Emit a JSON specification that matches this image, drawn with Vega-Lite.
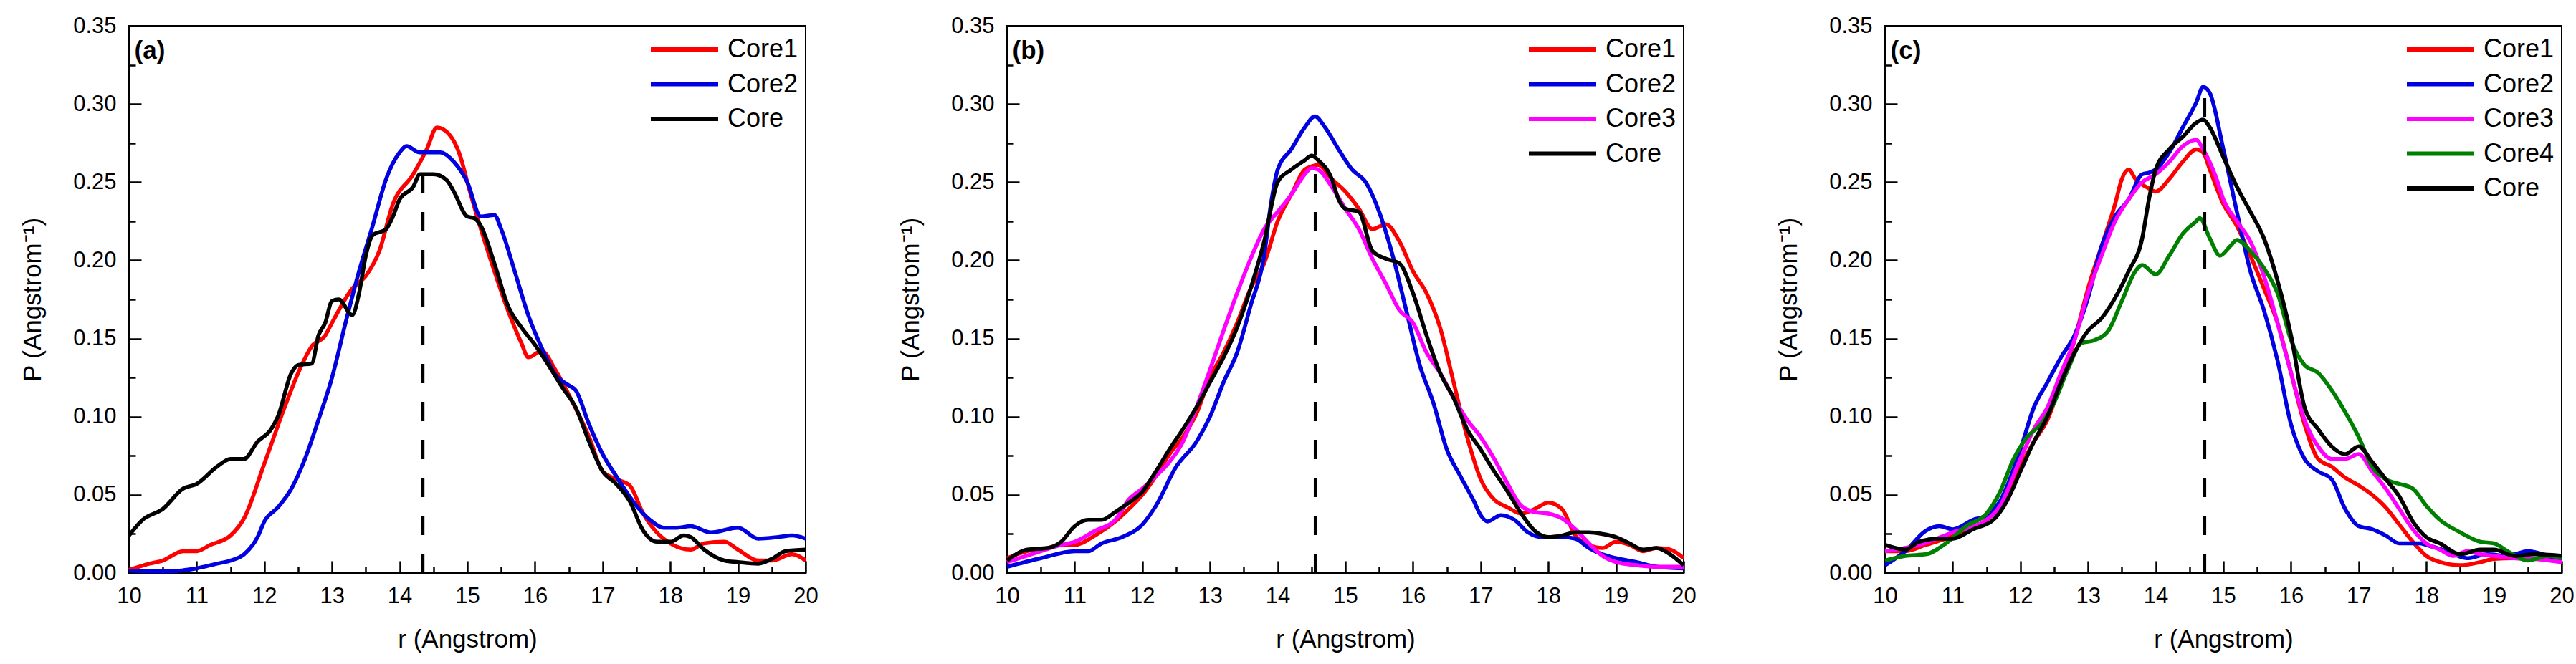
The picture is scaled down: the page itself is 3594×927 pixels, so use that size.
{
  "$schema": "https://vega.github.io/schema/vega-lite/v6.json",
  "padding": {"left": 27, "top": 19, "right": 0, "bottom": 5},
  "spacing": 109,
  "datasets": {
    "a": [
      {"series": "Core1", "r": 10.0, "p": 0.002}, {"series": "Core1", "r": 10.3, "p": 0.006}, {"series": "Core1", "r": 10.5, "p": 0.008},
      {"series": "Core1", "r": 10.8, "p": 0.014}, {"series": "Core1", "r": 11.0, "p": 0.014}, {"series": "Core1", "r": 11.2, "p": 0.018},
      {"series": "Core1", "r": 11.5, "p": 0.024}, {"series": "Core1", "r": 11.7, "p": 0.035}, {"series": "Core1", "r": 12.0, "p": 0.07},
      {"series": "Core1", "r": 12.3, "p": 0.106}, {"series": "Core1", "r": 12.5, "p": 0.128}, {"series": "Core1", "r": 12.7, "p": 0.145},
      {"series": "Core1", "r": 12.9, "p": 0.152}, {"series": "Core1", "r": 13.0, "p": 0.16}, {"series": "Core1", "r": 13.3, "p": 0.182},
      {"series": "Core1", "r": 13.5, "p": 0.19}, {"series": "Core1", "r": 13.7, "p": 0.206}, {"series": "Core1", "r": 13.9, "p": 0.236},
      {"series": "Core1", "r": 14.2, "p": 0.255}, {"series": "Core1", "r": 14.4, "p": 0.271}, {"series": "Core1", "r": 14.55, "p": 0.285},
      {"series": "Core1", "r": 14.7, "p": 0.282}, {"series": "Core1", "r": 14.9, "p": 0.266}, {"series": "Core1", "r": 15.0, "p": 0.25},
      {"series": "Core1", "r": 15.2, "p": 0.22}, {"series": "Core1", "r": 15.4, "p": 0.193}, {"series": "Core1", "r": 15.6, "p": 0.168},
      {"series": "Core1", "r": 15.8, "p": 0.147}, {"series": "Core1", "r": 15.9, "p": 0.138}, {"series": "Core1", "r": 16.1, "p": 0.142},
      {"series": "Core1", "r": 16.3, "p": 0.13}, {"series": "Core1", "r": 16.5, "p": 0.114}, {"series": "Core1", "r": 16.8, "p": 0.087},
      {"series": "Core1", "r": 17.0, "p": 0.065}, {"series": "Core1", "r": 17.2, "p": 0.06}, {"series": "Core1", "r": 17.4, "p": 0.056},
      {"series": "Core1", "r": 17.6, "p": 0.038}, {"series": "Core1", "r": 17.8, "p": 0.026}, {"series": "Core1", "r": 18.0, "p": 0.019},
      {"series": "Core1", "r": 18.3, "p": 0.015}, {"series": "Core1", "r": 18.5, "p": 0.019}, {"series": "Core1", "r": 18.8, "p": 0.02},
      {"series": "Core1", "r": 19.0, "p": 0.015}, {"series": "Core1", "r": 19.3, "p": 0.008}, {"series": "Core1", "r": 19.5, "p": 0.008},
      {"series": "Core1", "r": 19.8, "p": 0.012}, {"series": "Core1", "r": 20.0, "p": 0.008},

      {"series": "Core2", "r": 10.0, "p": 0.0015}, {"series": "Core2", "r": 10.5, "p": 0.001}, {"series": "Core2", "r": 11.0, "p": 0.003},
      {"series": "Core2", "r": 11.3, "p": 0.006}, {"series": "Core2", "r": 11.5, "p": 0.008}, {"series": "Core2", "r": 11.7, "p": 0.012},
      {"series": "Core2", "r": 11.9, "p": 0.023}, {"series": "Core2", "r": 12.0, "p": 0.033}, {"series": "Core2", "r": 12.2, "p": 0.042},
      {"series": "Core2", "r": 12.4, "p": 0.054}, {"series": "Core2", "r": 12.6, "p": 0.073}, {"series": "Core2", "r": 12.8, "p": 0.098},
      {"series": "Core2", "r": 13.0, "p": 0.125}, {"series": "Core2", "r": 13.2, "p": 0.16}, {"series": "Core2", "r": 13.4, "p": 0.193},
      {"series": "Core2", "r": 13.6, "p": 0.222}, {"series": "Core2", "r": 13.8, "p": 0.252}, {"series": "Core2", "r": 14.0, "p": 0.269},
      {"series": "Core2", "r": 14.1, "p": 0.273}, {"series": "Core2", "r": 14.3, "p": 0.269}, {"series": "Core2", "r": 14.6, "p": 0.269},
      {"series": "Core2", "r": 14.8, "p": 0.263}, {"series": "Core2", "r": 15.0, "p": 0.25}, {"series": "Core2", "r": 15.2, "p": 0.228},
      {"series": "Core2", "r": 15.4, "p": 0.229}, {"series": "Core2", "r": 15.5, "p": 0.22}, {"series": "Core2", "r": 15.7, "p": 0.193},
      {"series": "Core2", "r": 15.9, "p": 0.165}, {"series": "Core2", "r": 16.1, "p": 0.144}, {"series": "Core2", "r": 16.3, "p": 0.127},
      {"series": "Core2", "r": 16.5, "p": 0.12}, {"series": "Core2", "r": 16.6, "p": 0.117}, {"series": "Core2", "r": 16.8, "p": 0.095},
      {"series": "Core2", "r": 17.0, "p": 0.076}, {"series": "Core2", "r": 17.2, "p": 0.062}, {"series": "Core2", "r": 17.5, "p": 0.043},
      {"series": "Core2", "r": 17.7, "p": 0.034}, {"series": "Core2", "r": 17.9, "p": 0.029}, {"series": "Core2", "r": 18.1, "p": 0.029},
      {"series": "Core2", "r": 18.3, "p": 0.03}, {"series": "Core2", "r": 18.6, "p": 0.026}, {"series": "Core2", "r": 19.0, "p": 0.029},
      {"series": "Core2", "r": 19.3, "p": 0.022}, {"series": "Core2", "r": 19.6, "p": 0.023}, {"series": "Core2", "r": 19.8, "p": 0.024},
      {"series": "Core2", "r": 20.0, "p": 0.022},

      {"series": "Core", "r": 10.0, "p": 0.024}, {"series": "Core", "r": 10.2, "p": 0.034}, {"series": "Core", "r": 10.5, "p": 0.041},
      {"series": "Core", "r": 10.8, "p": 0.054}, {"series": "Core", "r": 11.0, "p": 0.057}, {"series": "Core", "r": 11.3, "p": 0.068},
      {"series": "Core", "r": 11.5, "p": 0.073}, {"series": "Core", "r": 11.7, "p": 0.073}, {"series": "Core", "r": 11.9, "p": 0.084},
      {"series": "Core", "r": 12.1, "p": 0.092}, {"series": "Core", "r": 12.2, "p": 0.1}, {"series": "Core", "r": 12.4, "p": 0.128},
      {"series": "Core", "r": 12.5, "p": 0.133}, {"series": "Core", "r": 12.7, "p": 0.134}, {"series": "Core", "r": 12.8, "p": 0.152},
      {"series": "Core", "r": 12.9, "p": 0.16}, {"series": "Core", "r": 13.0, "p": 0.174}, {"series": "Core", "r": 13.1, "p": 0.175},
      {"series": "Core", "r": 13.3, "p": 0.165}, {"series": "Core", "r": 13.4, "p": 0.179}, {"series": "Core", "r": 13.5, "p": 0.203},
      {"series": "Core", "r": 13.6, "p": 0.216}, {"series": "Core", "r": 13.8, "p": 0.22}, {"series": "Core", "r": 13.9, "p": 0.228},
      {"series": "Core", "r": 14.0, "p": 0.239}, {"series": "Core", "r": 14.2, "p": 0.247}, {"series": "Core", "r": 14.3, "p": 0.255},
      {"series": "Core", "r": 14.5, "p": 0.255}, {"series": "Core", "r": 14.7, "p": 0.251}, {"series": "Core", "r": 14.8, "p": 0.244},
      {"series": "Core", "r": 15.0, "p": 0.228}, {"series": "Core", "r": 15.1, "p": 0.227}, {"series": "Core", "r": 15.2, "p": 0.222},
      {"series": "Core", "r": 15.4, "p": 0.198}, {"series": "Core", "r": 15.6, "p": 0.171}, {"series": "Core", "r": 15.8, "p": 0.157},
      {"series": "Core", "r": 16.0, "p": 0.146}, {"series": "Core", "r": 16.2, "p": 0.133}, {"series": "Core", "r": 16.4, "p": 0.119},
      {"series": "Core", "r": 16.6, "p": 0.106}, {"series": "Core", "r": 16.8, "p": 0.084}, {"series": "Core", "r": 17.0, "p": 0.065},
      {"series": "Core", "r": 17.2, "p": 0.057}, {"series": "Core", "r": 17.4, "p": 0.046}, {"series": "Core", "r": 17.6, "p": 0.027},
      {"series": "Core", "r": 17.8, "p": 0.02}, {"series": "Core", "r": 18.0, "p": 0.02}, {"series": "Core", "r": 18.2, "p": 0.024},
      {"series": "Core", "r": 18.3, "p": 0.023}, {"series": "Core", "r": 18.5, "p": 0.015}, {"series": "Core", "r": 18.8, "p": 0.008},
      {"series": "Core", "r": 19.0, "p": 0.007}, {"series": "Core", "r": 19.3, "p": 0.006}, {"series": "Core", "r": 19.5, "p": 0.009},
      {"series": "Core", "r": 19.7, "p": 0.014}, {"series": "Core", "r": 20.0, "p": 0.015}
    ],
    "b": [
      {"series": "Core1", "r": 10.0, "p": 0.0095}, {"series": "Core1", "r": 10.3, "p": 0.014}, {"series": "Core1", "r": 10.6, "p": 0.016},
      {"series": "Core1", "r": 10.8, "p": 0.018}, {"series": "Core1", "r": 11.0, "p": 0.018}, {"series": "Core1", "r": 11.3, "p": 0.024},
      {"series": "Core1", "r": 11.6, "p": 0.033}, {"series": "Core1", "r": 11.8, "p": 0.041}, {"series": "Core1", "r": 12.0, "p": 0.05},
      {"series": "Core1", "r": 12.2, "p": 0.062}, {"series": "Core1", "r": 12.4, "p": 0.076}, {"series": "Core1", "r": 12.6, "p": 0.087},
      {"series": "Core1", "r": 12.8, "p": 0.102}, {"series": "Core1", "r": 13.0, "p": 0.125}, {"series": "Core1", "r": 13.2, "p": 0.141},
      {"series": "Core1", "r": 13.4, "p": 0.16}, {"series": "Core1", "r": 13.6, "p": 0.182}, {"series": "Core1", "r": 13.8, "p": 0.198},
      {"series": "Core1", "r": 14.0, "p": 0.225}, {"series": "Core1", "r": 14.2, "p": 0.242}, {"series": "Core1", "r": 14.4, "p": 0.258},
      {"series": "Core1", "r": 14.5, "p": 0.26}, {"series": "Core1", "r": 14.6, "p": 0.261}, {"series": "Core1", "r": 14.8, "p": 0.252},
      {"series": "Core1", "r": 15.0, "p": 0.244}, {"series": "Core1", "r": 15.2, "p": 0.233}, {"series": "Core1", "r": 15.4, "p": 0.22},
      {"series": "Core1", "r": 15.6, "p": 0.223}, {"series": "Core1", "r": 15.8, "p": 0.212}, {"series": "Core1", "r": 16.0, "p": 0.193},
      {"series": "Core1", "r": 16.2, "p": 0.179}, {"series": "Core1", "r": 16.4, "p": 0.157}, {"series": "Core1", "r": 16.6, "p": 0.122},
      {"series": "Core1", "r": 16.8, "p": 0.087}, {"series": "Core1", "r": 17.0, "p": 0.06}, {"series": "Core1", "r": 17.2, "p": 0.047},
      {"series": "Core1", "r": 17.4, "p": 0.042}, {"series": "Core1", "r": 17.6, "p": 0.038}, {"series": "Core1", "r": 17.8, "p": 0.041},
      {"series": "Core1", "r": 18.0, "p": 0.045}, {"series": "Core1", "r": 18.2, "p": 0.041}, {"series": "Core1", "r": 18.4, "p": 0.024},
      {"series": "Core1", "r": 18.6, "p": 0.018}, {"series": "Core1", "r": 18.8, "p": 0.016}, {"series": "Core1", "r": 19.0, "p": 0.02},
      {"series": "Core1", "r": 19.2, "p": 0.018}, {"series": "Core1", "r": 19.4, "p": 0.014}, {"series": "Core1", "r": 19.6, "p": 0.016},
      {"series": "Core1", "r": 19.8, "p": 0.015}, {"series": "Core1", "r": 20.0, "p": 0.0095},

      {"series": "Core2", "r": 10.0, "p": 0.004}, {"series": "Core2", "r": 10.5, "p": 0.0095}, {"series": "Core2", "r": 11.0, "p": 0.014},
      {"series": "Core2", "r": 11.2, "p": 0.014}, {"series": "Core2", "r": 11.4, "p": 0.019}, {"series": "Core2", "r": 11.7, "p": 0.023},
      {"series": "Core2", "r": 12.0, "p": 0.031}, {"series": "Core2", "r": 12.2, "p": 0.043}, {"series": "Core2", "r": 12.5, "p": 0.068},
      {"series": "Core2", "r": 12.8, "p": 0.084}, {"series": "Core2", "r": 13.0, "p": 0.1}, {"series": "Core2", "r": 13.2, "p": 0.122},
      {"series": "Core2", "r": 13.4, "p": 0.141}, {"series": "Core2", "r": 13.6, "p": 0.171}, {"series": "Core2", "r": 13.8, "p": 0.203},
      {"series": "Core2", "r": 13.9, "p": 0.236}, {"series": "Core2", "r": 14.0, "p": 0.258}, {"series": "Core2", "r": 14.2, "p": 0.271},
      {"series": "Core2", "r": 14.4, "p": 0.285}, {"series": "Core2", "r": 14.55, "p": 0.292}, {"series": "Core2", "r": 14.7, "p": 0.285},
      {"series": "Core2", "r": 14.9, "p": 0.271}, {"series": "Core2", "r": 15.1, "p": 0.258}, {"series": "Core2", "r": 15.3, "p": 0.25},
      {"series": "Core2", "r": 15.5, "p": 0.231}, {"series": "Core2", "r": 15.7, "p": 0.203}, {"series": "Core2", "r": 15.9, "p": 0.168},
      {"series": "Core2", "r": 16.1, "p": 0.133}, {"series": "Core2", "r": 16.3, "p": 0.109}, {"series": "Core2", "r": 16.5, "p": 0.079},
      {"series": "Core2", "r": 16.7, "p": 0.062}, {"series": "Core2", "r": 16.9, "p": 0.046}, {"series": "Core2", "r": 17.0, "p": 0.037},
      {"series": "Core2", "r": 17.1, "p": 0.033}, {"series": "Core2", "r": 17.3, "p": 0.037}, {"series": "Core2", "r": 17.5, "p": 0.034},
      {"series": "Core2", "r": 17.7, "p": 0.026}, {"series": "Core2", "r": 17.9, "p": 0.023}, {"series": "Core2", "r": 18.2, "p": 0.023},
      {"series": "Core2", "r": 18.4, "p": 0.022}, {"series": "Core2", "r": 18.6, "p": 0.016}, {"series": "Core2", "r": 18.8, "p": 0.012},
      {"series": "Core2", "r": 19.0, "p": 0.0095}, {"series": "Core2", "r": 19.3, "p": 0.007}, {"series": "Core2", "r": 19.6, "p": 0.004},
      {"series": "Core2", "r": 20.0, "p": 0.003},

      {"series": "Core3", "r": 10.0, "p": 0.007}, {"series": "Core3", "r": 10.5, "p": 0.014}, {"series": "Core3", "r": 10.8, "p": 0.018},
      {"series": "Core3", "r": 11.0, "p": 0.02}, {"series": "Core3", "r": 11.3, "p": 0.027}, {"series": "Core3", "r": 11.6, "p": 0.034},
      {"series": "Core3", "r": 11.8, "p": 0.047}, {"series": "Core3", "r": 12.0, "p": 0.054}, {"series": "Core3", "r": 12.2, "p": 0.062},
      {"series": "Core3", "r": 12.4, "p": 0.071}, {"series": "Core3", "r": 12.6, "p": 0.084}, {"series": "Core3", "r": 12.8, "p": 0.106},
      {"series": "Core3", "r": 13.0, "p": 0.13}, {"series": "Core3", "r": 13.2, "p": 0.155}, {"series": "Core3", "r": 13.4, "p": 0.179},
      {"series": "Core3", "r": 13.6, "p": 0.201}, {"series": "Core3", "r": 13.8, "p": 0.22}, {"series": "Core3", "r": 14.0, "p": 0.231},
      {"series": "Core3", "r": 14.2, "p": 0.242}, {"series": "Core3", "r": 14.4, "p": 0.255}, {"series": "Core3", "r": 14.5, "p": 0.259},
      {"series": "Core3", "r": 14.6, "p": 0.258}, {"series": "Core3", "r": 14.8, "p": 0.247}, {"series": "Core3", "r": 15.0, "p": 0.233},
      {"series": "Core3", "r": 15.2, "p": 0.22}, {"series": "Core3", "r": 15.4, "p": 0.201}, {"series": "Core3", "r": 15.6, "p": 0.185},
      {"series": "Core3", "r": 15.8, "p": 0.168}, {"series": "Core3", "r": 16.0, "p": 0.16}, {"series": "Core3", "r": 16.2, "p": 0.141},
      {"series": "Core3", "r": 16.4, "p": 0.128}, {"series": "Core3", "r": 16.6, "p": 0.112}, {"series": "Core3", "r": 16.8, "p": 0.098},
      {"series": "Core3", "r": 17.0, "p": 0.087}, {"series": "Core3", "r": 17.2, "p": 0.073}, {"series": "Core3", "r": 17.4, "p": 0.057},
      {"series": "Core3", "r": 17.6, "p": 0.043}, {"series": "Core3", "r": 17.8, "p": 0.039}, {"series": "Core3", "r": 18.0, "p": 0.038},
      {"series": "Core3", "r": 18.2, "p": 0.035}, {"series": "Core3", "r": 18.4, "p": 0.028}, {"series": "Core3", "r": 18.6, "p": 0.019},
      {"series": "Core3", "r": 18.8, "p": 0.011}, {"series": "Core3", "r": 19.0, "p": 0.007}, {"series": "Core3", "r": 19.3, "p": 0.005},
      {"series": "Core3", "r": 19.6, "p": 0.004}, {"series": "Core3", "r": 20.0, "p": 0.004},

      {"series": "Core", "r": 10.0, "p": 0.008}, {"series": "Core", "r": 10.3, "p": 0.015}, {"series": "Core", "r": 10.6, "p": 0.016},
      {"series": "Core", "r": 10.8, "p": 0.02}, {"series": "Core", "r": 11.0, "p": 0.03}, {"series": "Core", "r": 11.2, "p": 0.034},
      {"series": "Core", "r": 11.4, "p": 0.034}, {"series": "Core", "r": 11.6, "p": 0.039}, {"series": "Core", "r": 11.8, "p": 0.045},
      {"series": "Core", "r": 12.0, "p": 0.052}, {"series": "Core", "r": 12.2, "p": 0.065}, {"series": "Core", "r": 12.4, "p": 0.079},
      {"series": "Core", "r": 12.6, "p": 0.092}, {"series": "Core", "r": 12.8, "p": 0.106}, {"series": "Core", "r": 13.0, "p": 0.122},
      {"series": "Core", "r": 13.2, "p": 0.138}, {"series": "Core", "r": 13.4, "p": 0.157}, {"series": "Core", "r": 13.6, "p": 0.182},
      {"series": "Core", "r": 13.8, "p": 0.212}, {"series": "Core", "r": 14.0, "p": 0.25}, {"series": "Core", "r": 14.2, "p": 0.258},
      {"series": "Core", "r": 14.4, "p": 0.264}, {"series": "Core", "r": 14.5, "p": 0.267}, {"series": "Core", "r": 14.6, "p": 0.264},
      {"series": "Core", "r": 14.8, "p": 0.252}, {"series": "Core", "r": 14.9, "p": 0.239}, {"series": "Core", "r": 15.0, "p": 0.233},
      {"series": "Core", "r": 15.2, "p": 0.231}, {"series": "Core", "r": 15.4, "p": 0.206}, {"series": "Core", "r": 15.6, "p": 0.201},
      {"series": "Core", "r": 15.8, "p": 0.198}, {"series": "Core", "r": 16.0, "p": 0.179}, {"series": "Core", "r": 16.2, "p": 0.152},
      {"series": "Core", "r": 16.4, "p": 0.128}, {"series": "Core", "r": 16.6, "p": 0.112}, {"series": "Core", "r": 16.8, "p": 0.092},
      {"series": "Core", "r": 17.0, "p": 0.079}, {"series": "Core", "r": 17.2, "p": 0.065}, {"series": "Core", "r": 17.4, "p": 0.052},
      {"series": "Core", "r": 17.6, "p": 0.038}, {"series": "Core", "r": 17.8, "p": 0.027}, {"series": "Core", "r": 18.0, "p": 0.023},
      {"series": "Core", "r": 18.2, "p": 0.024}, {"series": "Core", "r": 18.4, "p": 0.026}, {"series": "Core", "r": 18.6, "p": 0.026},
      {"series": "Core", "r": 18.8, "p": 0.025}, {"series": "Core", "r": 19.0, "p": 0.023}, {"series": "Core", "r": 19.2, "p": 0.019},
      {"series": "Core", "r": 19.4, "p": 0.015}, {"series": "Core", "r": 19.6, "p": 0.016}, {"series": "Core", "r": 19.8, "p": 0.012},
      {"series": "Core", "r": 20.0, "p": 0.005}
    ],
    "c": [
      {"series": "Core1", "r": 10.0, "p": 0.014}, {"series": "Core1", "r": 10.3, "p": 0.014}, {"series": "Core1", "r": 10.6, "p": 0.018},
      {"series": "Core1", "r": 10.9, "p": 0.022}, {"series": "Core1", "r": 11.2, "p": 0.027}, {"series": "Core1", "r": 11.5, "p": 0.034},
      {"series": "Core1", "r": 11.7, "p": 0.043}, {"series": "Core1", "r": 12.0, "p": 0.068}, {"series": "Core1", "r": 12.2, "p": 0.084},
      {"series": "Core1", "r": 12.4, "p": 0.098}, {"series": "Core1", "r": 12.6, "p": 0.122}, {"series": "Core1", "r": 12.8, "p": 0.149},
      {"series": "Core1", "r": 13.0, "p": 0.182}, {"series": "Core1", "r": 13.2, "p": 0.209}, {"series": "Core1", "r": 13.4, "p": 0.236},
      {"series": "Core1", "r": 13.5, "p": 0.252}, {"series": "Core1", "r": 13.6, "p": 0.258}, {"series": "Core1", "r": 13.7, "p": 0.252},
      {"series": "Core1", "r": 13.9, "p": 0.246}, {"series": "Core1", "r": 14.0, "p": 0.244}, {"series": "Core1", "r": 14.2, "p": 0.252},
      {"series": "Core1", "r": 14.4, "p": 0.263}, {"series": "Core1", "r": 14.6, "p": 0.271}, {"series": "Core1", "r": 14.7, "p": 0.269},
      {"series": "Core1", "r": 14.8, "p": 0.258}, {"series": "Core1", "r": 15.0, "p": 0.236}, {"series": "Core1", "r": 15.2, "p": 0.222},
      {"series": "Core1", "r": 15.4, "p": 0.203}, {"series": "Core1", "r": 15.6, "p": 0.182}, {"series": "Core1", "r": 15.8, "p": 0.16},
      {"series": "Core1", "r": 16.0, "p": 0.128}, {"series": "Core1", "r": 16.2, "p": 0.095}, {"series": "Core1", "r": 16.4, "p": 0.073},
      {"series": "Core1", "r": 16.6, "p": 0.068}, {"series": "Core1", "r": 16.8, "p": 0.061}, {"series": "Core1", "r": 17.0, "p": 0.056},
      {"series": "Core1", "r": 17.2, "p": 0.05}, {"series": "Core1", "r": 17.4, "p": 0.042}, {"series": "Core1", "r": 17.6, "p": 0.031},
      {"series": "Core1", "r": 17.8, "p": 0.02}, {"series": "Core1", "r": 18.0, "p": 0.011}, {"series": "Core1", "r": 18.2, "p": 0.007},
      {"series": "Core1", "r": 18.5, "p": 0.005}, {"series": "Core1", "r": 18.8, "p": 0.007}, {"series": "Core1", "r": 19.0, "p": 0.009},
      {"series": "Core1", "r": 19.3, "p": 0.0095}, {"series": "Core1", "r": 19.6, "p": 0.009}, {"series": "Core1", "r": 20.0, "p": 0.008},

      {"series": "Core2", "r": 10.0, "p": 0.005}, {"series": "Core2", "r": 10.3, "p": 0.014}, {"series": "Core2", "r": 10.6, "p": 0.027},
      {"series": "Core2", "r": 10.8, "p": 0.03}, {"series": "Core2", "r": 11.0, "p": 0.028}, {"series": "Core2", "r": 11.3, "p": 0.034},
      {"series": "Core2", "r": 11.5, "p": 0.037}, {"series": "Core2", "r": 11.7, "p": 0.046}, {"series": "Core2", "r": 12.0, "p": 0.079},
      {"series": "Core2", "r": 12.2, "p": 0.106}, {"series": "Core2", "r": 12.4, "p": 0.122}, {"series": "Core2", "r": 12.6, "p": 0.138},
      {"series": "Core2", "r": 12.8, "p": 0.152}, {"series": "Core2", "r": 13.0, "p": 0.176}, {"series": "Core2", "r": 13.2, "p": 0.209},
      {"series": "Core2", "r": 13.4, "p": 0.228}, {"series": "Core2", "r": 13.6, "p": 0.239}, {"series": "Core2", "r": 13.8, "p": 0.255},
      {"series": "Core2", "r": 13.9, "p": 0.256}, {"series": "Core2", "r": 14.0, "p": 0.258}, {"series": "Core2", "r": 14.2, "p": 0.269},
      {"series": "Core2", "r": 14.4, "p": 0.285}, {"series": "Core2", "r": 14.6, "p": 0.301}, {"series": "Core2", "r": 14.7, "p": 0.311},
      {"series": "Core2", "r": 14.8, "p": 0.307}, {"series": "Core2", "r": 15.0, "p": 0.271}, {"series": "Core2", "r": 15.2, "p": 0.231},
      {"series": "Core2", "r": 15.4, "p": 0.193}, {"series": "Core2", "r": 15.6, "p": 0.168}, {"series": "Core2", "r": 15.8, "p": 0.136},
      {"series": "Core2", "r": 16.0, "p": 0.095}, {"series": "Core2", "r": 16.2, "p": 0.073}, {"series": "Core2", "r": 16.4, "p": 0.065},
      {"series": "Core2", "r": 16.6, "p": 0.06}, {"series": "Core2", "r": 16.8, "p": 0.041}, {"series": "Core2", "r": 17.0, "p": 0.03},
      {"series": "Core2", "r": 17.2, "p": 0.028}, {"series": "Core2", "r": 17.4, "p": 0.024}, {"series": "Core2", "r": 17.6, "p": 0.019},
      {"series": "Core2", "r": 17.9, "p": 0.019}, {"series": "Core2", "r": 18.0, "p": 0.018}, {"series": "Core2", "r": 18.3, "p": 0.014},
      {"series": "Core2", "r": 18.6, "p": 0.0095}, {"series": "Core2", "r": 18.9, "p": 0.012}, {"series": "Core2", "r": 19.2, "p": 0.011},
      {"series": "Core2", "r": 19.5, "p": 0.014}, {"series": "Core2", "r": 19.8, "p": 0.011}, {"series": "Core2", "r": 20.0, "p": 0.008},

      {"series": "Core3", "r": 10.0, "p": 0.014}, {"series": "Core3", "r": 10.5, "p": 0.018}, {"series": "Core3", "r": 11.0, "p": 0.026},
      {"series": "Core3", "r": 11.5, "p": 0.034}, {"series": "Core3", "r": 11.7, "p": 0.043}, {"series": "Core3", "r": 12.0, "p": 0.073},
      {"series": "Core3", "r": 12.2, "p": 0.092}, {"series": "Core3", "r": 12.4, "p": 0.106}, {"series": "Core3", "r": 12.6, "p": 0.128},
      {"series": "Core3", "r": 12.8, "p": 0.149}, {"series": "Core3", "r": 13.0, "p": 0.179}, {"series": "Core3", "r": 13.2, "p": 0.203},
      {"series": "Core3", "r": 13.4, "p": 0.225}, {"series": "Core3", "r": 13.6, "p": 0.239}, {"series": "Core3", "r": 13.8, "p": 0.25},
      {"series": "Core3", "r": 14.0, "p": 0.255}, {"series": "Core3", "r": 14.2, "p": 0.263}, {"series": "Core3", "r": 14.4, "p": 0.273},
      {"series": "Core3", "r": 14.6, "p": 0.277}, {"series": "Core3", "r": 14.7, "p": 0.271}, {"series": "Core3", "r": 14.9, "p": 0.252},
      {"series": "Core3", "r": 15.0, "p": 0.239}, {"series": "Core3", "r": 15.2, "p": 0.225}, {"series": "Core3", "r": 15.4, "p": 0.212},
      {"series": "Core3", "r": 15.6, "p": 0.19}, {"series": "Core3", "r": 15.8, "p": 0.16}, {"series": "Core3", "r": 16.0, "p": 0.128},
      {"series": "Core3", "r": 16.2, "p": 0.098}, {"series": "Core3", "r": 16.4, "p": 0.081}, {"series": "Core3", "r": 16.6, "p": 0.073},
      {"series": "Core3", "r": 16.8, "p": 0.073}, {"series": "Core3", "r": 17.0, "p": 0.076}, {"series": "Core3", "r": 17.2, "p": 0.065},
      {"series": "Core3", "r": 17.4, "p": 0.054}, {"series": "Core3", "r": 17.6, "p": 0.041}, {"series": "Core3", "r": 17.8, "p": 0.028},
      {"series": "Core3", "r": 18.0, "p": 0.019}, {"series": "Core3", "r": 18.2, "p": 0.015}, {"series": "Core3", "r": 18.4, "p": 0.011},
      {"series": "Core3", "r": 18.6, "p": 0.014}, {"series": "Core3", "r": 18.8, "p": 0.012}, {"series": "Core3", "r": 19.0, "p": 0.011},
      {"series": "Core3", "r": 19.3, "p": 0.0095}, {"series": "Core3", "r": 19.6, "p": 0.009}, {"series": "Core3", "r": 20.0, "p": 0.007},

      {"series": "Core4", "r": 10.0, "p": 0.008}, {"series": "Core4", "r": 10.3, "p": 0.011}, {"series": "Core4", "r": 10.6, "p": 0.012},
      {"series": "Core4", "r": 10.9, "p": 0.019}, {"series": "Core4", "r": 11.2, "p": 0.03}, {"series": "Core4", "r": 11.5, "p": 0.038},
      {"series": "Core4", "r": 11.7, "p": 0.052}, {"series": "Core4", "r": 11.9, "p": 0.073}, {"series": "Core4", "r": 12.1, "p": 0.087},
      {"series": "Core4", "r": 12.3, "p": 0.095}, {"series": "Core4", "r": 12.5, "p": 0.109}, {"series": "Core4", "r": 12.7, "p": 0.13},
      {"series": "Core4", "r": 12.9, "p": 0.147}, {"series": "Core4", "r": 13.1, "p": 0.149}, {"series": "Core4", "r": 13.3, "p": 0.155},
      {"series": "Core4", "r": 13.5, "p": 0.174}, {"series": "Core4", "r": 13.7, "p": 0.193}, {"series": "Core4", "r": 13.8, "p": 0.197},
      {"series": "Core4", "r": 14.0, "p": 0.191}, {"series": "Core4", "r": 14.2, "p": 0.203}, {"series": "Core4", "r": 14.4, "p": 0.217},
      {"series": "Core4", "r": 14.6, "p": 0.225}, {"series": "Core4", "r": 14.65, "p": 0.227}, {"series": "Core4", "r": 14.8, "p": 0.214},
      {"series": "Core4", "r": 14.95, "p": 0.203}, {"series": "Core4", "r": 15.1, "p": 0.209}, {"series": "Core4", "r": 15.2, "p": 0.213},
      {"series": "Core4", "r": 15.4, "p": 0.206}, {"series": "Core4", "r": 15.6, "p": 0.195}, {"series": "Core4", "r": 15.8, "p": 0.179},
      {"series": "Core4", "r": 16.0, "p": 0.149}, {"series": "Core4", "r": 16.2, "p": 0.133}, {"series": "Core4", "r": 16.4, "p": 0.128},
      {"series": "Core4", "r": 16.6, "p": 0.117}, {"series": "Core4", "r": 16.8, "p": 0.103}, {"series": "Core4", "r": 17.0, "p": 0.087},
      {"series": "Core4", "r": 17.2, "p": 0.068}, {"series": "Core4", "r": 17.4, "p": 0.06}, {"series": "Core4", "r": 17.6, "p": 0.057},
      {"series": "Core4", "r": 17.8, "p": 0.054}, {"series": "Core4", "r": 18.0, "p": 0.043}, {"series": "Core4", "r": 18.2, "p": 0.034},
      {"series": "Core4", "r": 18.5, "p": 0.026}, {"series": "Core4", "r": 18.8, "p": 0.02}, {"series": "Core4", "r": 19.0, "p": 0.019},
      {"series": "Core4", "r": 19.2, "p": 0.014}, {"series": "Core4", "r": 19.5, "p": 0.008}, {"series": "Core4", "r": 19.8, "p": 0.011},
      {"series": "Core4", "r": 20.0, "p": 0.0095},

      {"series": "Core", "r": 10.0, "p": 0.018}, {"series": "Core", "r": 10.3, "p": 0.015}, {"series": "Core", "r": 10.5, "p": 0.02},
      {"series": "Core", "r": 10.8, "p": 0.022}, {"series": "Core", "r": 11.0, "p": 0.022}, {"series": "Core", "r": 11.3, "p": 0.028},
      {"series": "Core", "r": 11.6, "p": 0.034}, {"series": "Core", "r": 11.8, "p": 0.046}, {"series": "Core", "r": 12.0, "p": 0.065},
      {"series": "Core", "r": 12.2, "p": 0.084}, {"series": "Core", "r": 12.4, "p": 0.1}, {"series": "Core", "r": 12.6, "p": 0.122},
      {"series": "Core", "r": 12.8, "p": 0.141}, {"series": "Core", "r": 13.0, "p": 0.155}, {"series": "Core", "r": 13.2, "p": 0.163},
      {"series": "Core", "r": 13.4, "p": 0.176}, {"series": "Core", "r": 13.6, "p": 0.193}, {"series": "Core", "r": 13.8, "p": 0.214},
      {"series": "Core", "r": 13.9, "p": 0.239}, {"series": "Core", "r": 14.0, "p": 0.258}, {"series": "Core", "r": 14.2, "p": 0.271},
      {"series": "Core", "r": 14.4, "p": 0.279}, {"series": "Core", "r": 14.6, "p": 0.288}, {"series": "Core", "r": 14.7, "p": 0.29},
      {"series": "Core", "r": 14.8, "p": 0.285}, {"series": "Core", "r": 15.0, "p": 0.266}, {"series": "Core", "r": 15.2, "p": 0.247},
      {"series": "Core", "r": 15.4, "p": 0.231}, {"series": "Core", "r": 15.6, "p": 0.214}, {"series": "Core", "r": 15.8, "p": 0.187},
      {"series": "Core", "r": 16.0, "p": 0.152}, {"series": "Core", "r": 16.2, "p": 0.106}, {"series": "Core", "r": 16.4, "p": 0.092},
      {"series": "Core", "r": 16.6, "p": 0.081}, {"series": "Core", "r": 16.8, "p": 0.076}, {"series": "Core", "r": 17.0, "p": 0.081},
      {"series": "Core", "r": 17.2, "p": 0.071}, {"series": "Core", "r": 17.4, "p": 0.06}, {"series": "Core", "r": 17.6, "p": 0.049},
      {"series": "Core", "r": 17.8, "p": 0.033}, {"series": "Core", "r": 18.0, "p": 0.023}, {"series": "Core", "r": 18.2, "p": 0.019},
      {"series": "Core", "r": 18.5, "p": 0.012}, {"series": "Core", "r": 18.8, "p": 0.015}, {"series": "Core", "r": 19.0, "p": 0.015},
      {"series": "Core", "r": 19.3, "p": 0.011}, {"series": "Core", "r": 19.6, "p": 0.012}, {"series": "Core", "r": 20.0, "p": 0.011}
    ]
  },
  "hconcat": [
    {
      "width": 944,
      "height": 764,
      "layer": [
        {
          "data": {"name": "a"},
          "mark": {"type": "line", "strokeWidth": 5.5, "interpolate": "monotone"},
          "encoding": {
            "x": {"field": "r", "type": "quantitative", "scale": {"domain": [10, 20], "nice": false},
              "axis": {"title": "r (Angstrom)", "values": [10, 10.5, 11, 11.5, 12, 12.5, 13, 13.5, 14, 14.5, 15, 15.5, 16, 16.5, 17, 17.5, 18, 18.5, 19, 19.5, 20],
                "labelExpr": "datum.value % 1 === 0 ? format(datum.value, 'd') : ''",
                "tickSize": {"condition": {"test": "datum.value % 1 !== 0", "value": -9}, "value": -17}}},
            "y": {"field": "p", "type": "quantitative", "scale": {"domain": [0, 0.35], "nice": false},
              "axis": {"title": "P (Angstrom⁻¹)", "values": [0, 0.025, 0.05, 0.075, 0.1, 0.125, 0.15, 0.175, 0.2, 0.225, 0.25, 0.275, 0.3, 0.325, 0.35],
                "labelExpr": "abs(datum.value * 20 - round(datum.value * 20)) < 0.000001 ? format(datum.value, '.2f') : ''",
                "tickSize": {"condition": {"test": "abs(datum.value * 20 - round(datum.value * 20)) > 0.000001", "value": -9}, "value": -17}}},
            "color": {"field": "series", "type": "nominal",
              "scale": {"domain": ["Core1", "Core2", "Core"], "range": ["#ff0000", "#0000e0", "#000000"]},
              "legend": {"title": null}}
          }
        },
        {
          "data": {"values": [{"r": 14.34, "lo": 0, "hi": 0.254}]},
          "mark": {"type": "rule", "color": "black", "strokeWidth": 5, "strokeDash": [27, 26]},
          "encoding": {"x": {"field": "r", "type": "quantitative"}, "y": {"field": "lo", "type": "quantitative"}, "y2": {"field": "hi"}}
        },
        {
          "data": {"values": [{"r": 10.08, "p": 0.334, "label": "(a)"}]},
          "mark": {"type": "text", "align": "left", "baseline": "middle", "fontSize": 35, "fontWeight": "bold", "color": "black"},
          "encoding": {"x": {"field": "r", "type": "quantitative"}, "y": {"field": "p", "type": "quantitative"}, "text": {"field": "label"}}
        }
      ]
    },
    {
      "width": 944,
      "height": 764,
      "layer": [
        {
          "data": {"name": "b"},
          "mark": {"type": "line", "strokeWidth": 5.5, "interpolate": "monotone"},
          "encoding": {
            "x": {"field": "r", "type": "quantitative", "scale": {"domain": [10, 20], "nice": false},
              "axis": {"title": "r (Angstrom)", "values": [10, 10.5, 11, 11.5, 12, 12.5, 13, 13.5, 14, 14.5, 15, 15.5, 16, 16.5, 17, 17.5, 18, 18.5, 19, 19.5, 20],
                "labelExpr": "datum.value % 1 === 0 ? format(datum.value, 'd') : ''",
                "tickSize": {"condition": {"test": "datum.value % 1 !== 0", "value": -9}, "value": -17}}},
            "y": {"field": "p", "type": "quantitative", "scale": {"domain": [0, 0.35], "nice": false},
              "axis": {"title": "P (Angstrom⁻¹)", "values": [0, 0.025, 0.05, 0.075, 0.1, 0.125, 0.15, 0.175, 0.2, 0.225, 0.25, 0.275, 0.3, 0.325, 0.35],
                "labelExpr": "abs(datum.value * 20 - round(datum.value * 20)) < 0.000001 ? format(datum.value, '.2f') : ''",
                "tickSize": {"condition": {"test": "abs(datum.value * 20 - round(datum.value * 20)) > 0.000001", "value": -9}, "value": -17}}},
            "color": {"field": "series", "type": "nominal",
              "scale": {"domain": ["Core1", "Core2", "Core3", "Core"], "range": ["#ff0000", "#0000e0", "#ff00ff", "#000000"]},
              "legend": {"title": null}}
          }
        },
        {
          "data": {"values": [{"r": 14.56, "lo": 0, "hi": 0.291}]},
          "mark": {"type": "rule", "color": "black", "strokeWidth": 5, "strokeDash": [27, 26]},
          "encoding": {"x": {"field": "r", "type": "quantitative"}, "y": {"field": "lo", "type": "quantitative"}, "y2": {"field": "hi"}}
        },
        {
          "data": {"values": [{"r": 10.08, "p": 0.334, "label": "(b)"}]},
          "mark": {"type": "text", "align": "left", "baseline": "middle", "fontSize": 35, "fontWeight": "bold", "color": "black"},
          "encoding": {"x": {"field": "r", "type": "quantitative"}, "y": {"field": "p", "type": "quantitative"}, "text": {"field": "label"}}
        }
      ]
    },
    {
      "width": 944,
      "height": 764,
      "layer": [
        {
          "data": {"name": "c"},
          "mark": {"type": "line", "strokeWidth": 5.5, "interpolate": "monotone"},
          "encoding": {
            "x": {"field": "r", "type": "quantitative", "scale": {"domain": [10, 20], "nice": false},
              "axis": {"title": "r (Angstrom)", "values": [10, 10.5, 11, 11.5, 12, 12.5, 13, 13.5, 14, 14.5, 15, 15.5, 16, 16.5, 17, 17.5, 18, 18.5, 19, 19.5, 20],
                "labelExpr": "datum.value % 1 === 0 ? format(datum.value, 'd') : ''",
                "tickSize": {"condition": {"test": "datum.value % 1 !== 0", "value": -9}, "value": -17}}},
            "y": {"field": "p", "type": "quantitative", "scale": {"domain": [0, 0.35], "nice": false},
              "axis": {"title": "P (Angstrom⁻¹)", "values": [0, 0.025, 0.05, 0.075, 0.1, 0.125, 0.15, 0.175, 0.2, 0.225, 0.25, 0.275, 0.3, 0.325, 0.35],
                "labelExpr": "abs(datum.value * 20 - round(datum.value * 20)) < 0.000001 ? format(datum.value, '.2f') : ''",
                "tickSize": {"condition": {"test": "abs(datum.value * 20 - round(datum.value * 20)) > 0.000001", "value": -9}, "value": -17}}},
            "color": {"field": "series", "type": "nominal",
              "scale": {"domain": ["Core1", "Core2", "Core3", "Core4", "Core"], "range": ["#ff0000", "#0000e0", "#ff00ff", "#008000", "#000000"]},
              "legend": {"title": null}}
          }
        },
        {
          "data": {"values": [{"r": 14.72, "lo": 0, "hi": 0.311}]},
          "mark": {"type": "rule", "color": "black", "strokeWidth": 5, "strokeDash": [27, 26]},
          "encoding": {"x": {"field": "r", "type": "quantitative"}, "y": {"field": "lo", "type": "quantitative"}, "y2": {"field": "hi"}}
        },
        {
          "data": {"values": [{"r": 10.08, "p": 0.334, "label": "(c)"}]},
          "mark": {"type": "text", "align": "left", "baseline": "middle", "fontSize": 35, "fontWeight": "bold", "color": "black"},
          "encoding": {"x": {"field": "r", "type": "quantitative"}, "y": {"field": "p", "type": "quantitative"}, "text": {"field": "label"}}
        }
      ]
    }
  ],
  "resolve": {"scale": {"color": "independent"}},
  "config": {
    "font": "Liberation Sans",
    "view": {"stroke": "black", "strokeWidth": 2},
    "axis": {
      "grid": false,
      "domainColor": "black",
      "domainWidth": 2,
      "tickColor": "black",
      "tickWidth": 2.5,
      "labelColor": "black",
      "labelFontSize": 31,
      "labelFlush": false,
      "labelOverlap": false,
      "titleColor": "black",
      "titleFontSize": 35,
      "titleFontWeight": "normal"
    },
    "axisX": {"labelPadding": 34, "titlePadding": 20},
    "axisY": {"labelPadding": 35, "titlePadding": 38},
    "legend": {
      "orient": "top-right",
      "offset": 10,
      "padding": 0,
      "symbolType": "stroke",
      "symbolSize": 8836,
      "symbolStrokeWidth": 6,
      "labelFontSize": 36,
      "labelColor": "black",
      "labelOffset": 10,
      "clipHeight": 46,
      "rowPadding": 2.5
    }
  }
}
